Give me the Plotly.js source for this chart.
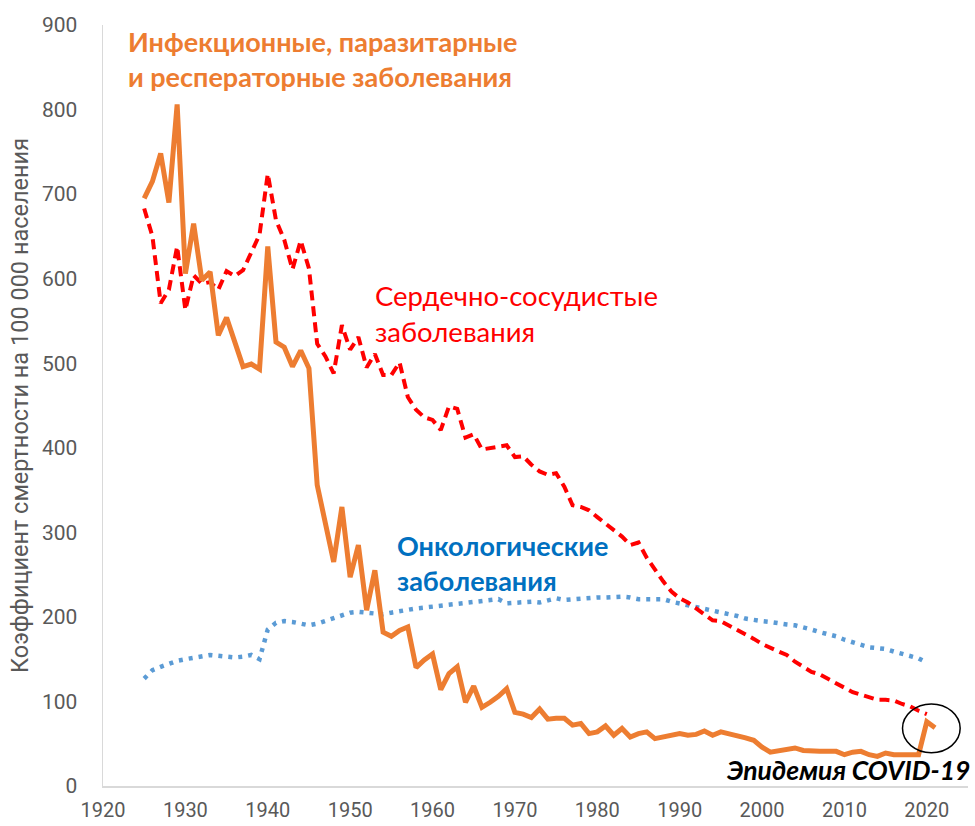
<!DOCTYPE html>
<html>
<head>
<meta charset="utf-8">
<script src="https://cdn.plot.ly/plotly-3.0.1.min.js"></script>
<style>html,body{margin:0;padding:0;background:#fff}#chart{width:975px;height:826px}</style>
</head>
<body>
<div id="chart"></div>
<script>
// Infectious, parasitic and respiratory diseases (1925-2021)
const yearsInfect = [];
for (let y = 1925; y <= 2021; y++) yearsInfect.push(y);
const infectious = [
  695, 715, 748, 690, 806, 606, 665, 598, 608, 533,
  554, 525, 496, 499, 493, 638, 525, 519, 496, 515,
  494, 356, 311, 265, 330, 247, 285, 208, 255, 182,
  177, 184, 188, 140, 149, 156, 114, 133, 141, 99,
  118, 93, 99, 106, 115, 87, 85, 81, 91, 79,
  80, 80, 72, 74, 62, 64, 71, 60, 68, 58,
  62, 64, 56, 58, 59, 62, 60, 61, 65, 60,
  64, 62, 59, 57, 54, 46, 40, 42, 43, 45,
  42, 41, 41, 41, 41, 37, 40, 41, 37, 35,
  39, 37, 37, 37, 37, 76, 69
];
// Cardiovascular diseases (1925-2020)
const yearsOther = [];
for (let y = 1925; y <= 2020; y++) yearsOther.push(y);
const cardio = [
  683, 650, 571, 587, 638, 563, 604, 594, 596, 587,
  609, 603, 610, 630, 652, 724, 669, 646, 611, 645,
  612, 523, 508, 488, 545, 516, 531, 495, 511, 486,
  486, 501, 460, 445, 436, 433, 421, 449, 446, 412,
  416, 398, 400, 401, 403, 389, 390, 380, 372, 368,
  370, 354, 332, 330, 326, 318, 310, 302, 295, 285,
  288, 270, 255, 242, 230, 222, 217, 210, 204, 196,
  195, 190, 185, 179, 174, 168, 163, 159, 155, 147,
  141, 135, 132, 127, 122, 116, 111, 108, 105, 102,
  102, 101, 97, 94, 89, 85
];
// Oncological diseases (1925-2020)
const oncology = [
  127, 137, 141, 145, 148, 150, 152, 154, 155, 154,
  153, 152, 153, 155, 150, 185, 193, 195, 194, 192,
  190, 192, 195, 198, 202, 205, 206, 205, 203, 203,
  205, 207, 208, 210, 211, 212, 213, 214, 215, 216,
  217, 218, 220, 221, 216, 217, 217, 218, 217, 220,
  222, 220, 221, 222, 222, 223, 223, 224, 224, 223,
  221, 221, 221, 221, 218, 216, 213, 212, 210, 208,
  206, 204, 201, 198, 196, 195, 194, 192, 191, 190,
  188, 185, 182, 180, 177, 173, 170, 167, 164, 163,
  162, 159, 156, 153, 151, 146
];
const xTicks = [1920, 1930, 1940, 1950, 1960, 1970, 1980, 1990, 2000, 2010, 2020];
const yTicks = [0, 100, 200, 300, 400, 500, 600, 700, 800, 900];

const labelInfect = 'Инфекционные, паразитарные<br>и респераторные заболевания';
const labelCardio = 'Сердечно-сосудистые<br>заболевания';
const labelOnco = 'Онкологические<br>заболевания';
const labelCovid = 'Эпидемия COVID-19';
const yTitle = 'Коэффициент смертности на 100 000 населения';

const traces = [
  {x: yearsOther, y: oncology, type: 'scatter', mode: 'lines',
   line: {color: '#5B9BD5', width: 4.5, dash: '4px,6px'}, hoverinfo: 'skip'},
  {x: yearsOther, y: cardio, type: 'scatter', mode: 'lines',
   line: {color: '#FF0000', width: 4, dash: '10px,6px'}, hoverinfo: 'skip'},
  {x: yearsInfect, y: infectious, type: 'scatter', mode: 'lines',
   line: {color: '#ED7D31', width: 5}, hoverinfo: 'skip'}
];

const layout = {
  width: 975, height: 826,
  margin: {l: 103, r: 7, t: 25, b: 40},
  paper_bgcolor: '#ffffff', plot_bgcolor: '#ffffff',
  showlegend: false,
  xaxis: {
    range: [1920, 2025], tickmode: 'array', tickvals: xTicks,
    ticktext: xTicks.map(String),
    showgrid: false, zeroline: false, showline: true,
    linecolor: '#d9d9d9', linewidth: 1.5, ticks: '',
    tickfont: {family: 'Roboto, sans-serif', size: 20, color: '#595959'},
    ticklabelstandoff: 5
  },
  yaxis: {
    range: [0, 900], tickmode: 'array', tickvals: yTicks,
    ticktext: yTicks.map(String),
    showgrid: false, zeroline: false, showline: true,
    linecolor: '#d9d9d9', linewidth: 1.5, ticks: '',
    tickfont: {family: 'Roboto, sans-serif', size: 21, color: '#595959'},
    ticklabelstandoff: 20,
    title: {text: yTitle, font: {family: 'Roboto, sans-serif', size: 23.5, color: '#595959'}, standoff: 6}
  },
  annotations: [
    {text: labelInfect, xref: 'x', yref: 'y', x: 1922.8, y: 860,
     xanchor: 'left', yanchor: 'middle', align: 'left', showarrow: false,
     font: {family: 'Lato, sans-serif', size: 27, color: '#ED7D31', weight: 'bold'}},
    {text: labelCardio, xref: 'x', yref: 'y', x: 1952.8, y: 559,
     xanchor: 'left', yanchor: 'middle', align: 'left', showarrow: false,
     font: {family: 'Lato, sans-serif', size: 27.5, color: '#FF0000'}},
    {text: labelOnco, xref: 'x', yref: 'y', x: 1955.4, y: 264,
     xanchor: 'left', yanchor: 'middle', align: 'left', showarrow: false,
     font: {family: 'Lato, sans-serif', size: 27, color: '#0070C0', weight: 'bold'}},
    {text: labelCovid, xref: 'paper', yref: 'y', x: 1.0046, y: 19,
     xanchor: 'right', yanchor: 'middle', align: 'right', showarrow: false,
     font: {family: 'Lato, sans-serif', size: 26.5, color: '#000000', weight: 'bold', style: 'italic'}}
  ],
  shapes: [
    {type: 'circle', xref: 'x', yref: 'y', x0: 2017.05, x1: 2024.05, y0: 39.4, y1: 97,
     line: {color: '#000000', width: 1.5}, fillcolor: 'rgba(0,0,0,0)'}
  ]
};

Plotly.newPlot('chart', traces, layout, {displayModeBar: false, staticPlot: true});
</script>
</body>
</html>
